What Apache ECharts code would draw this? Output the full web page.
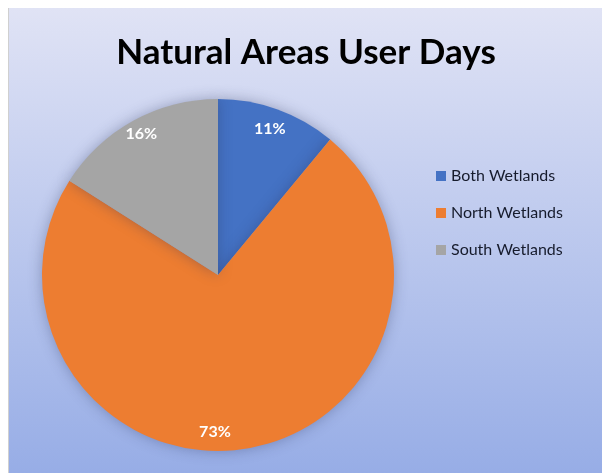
<!DOCTYPE html>
<html>
<head>
<meta charset="utf-8">
<script src="https://cdn.jsdelivr.net/npm/echarts@6/dist/echarts.min.js"></script>
<style>
  html, body { margin: 0; padding: 0; background: #ffffff; }
  #chart {
    position: absolute;
    left: 8px;
    top: 8px;
    width: 594px;
    height: 465px;
    border-left: 1px solid #d0d0d0;
  }
</style>
</head>
<body>
<div id="chart"></div>
<script>
const categories = ['Both Wetlands', 'North Wetlands', 'South Wetlands']
const shares = [11, 73, 16]
const colors = ['#4472c4', '#ed7d31', '#a5a5a5']

const chart = echarts.init(document.getElementById('chart'))

const pieData = categories.map((name, i) => ({
  name: name,
  value: shares[i],
  itemStyle: { color: colors[i] }
}))

// nudges so the labels land where the original put them
const labelNudge = [[0, -2], [-27, 6], [-3, -7]]

// labels sit near the rim, so put them on a transparent ring
const labelData = categories.map((name, i) => ({
  name: name,
  value: shares[i],
  label: { offset: labelNudge[i] }
}))

const option = {
  backgroundColor: {
    type: 'linear', x: 0, y: 0, x2: 0, y2: 1,
    colorStops: [
      { offset: 0, color: '#e0e3f5' },
      { offset: 1, color: '#97ade6' }
    ]
  },
  title: {
    text: 'Natural Areas User Days',
    left: 'center',
    top: 22,
    textStyle: {
      fontFamily: 'Lato',
      fontSize: 35,
      fontWeight: 'bold',
      color: '#000000'
    }
  },
  legend: {
    orient: 'vertical',
    left: 422,
    top: 155,
    itemWidth: 10,
    itemHeight: 10,
    itemGap: 21,
    icon: 'rect',
    textStyle: {
      fontFamily: 'Lato',
      fontSize: 16,
      color: '#161b2c'
    },
    data: categories.map((name, i) => ({ name: name, itemStyle: { color: colors[i] } }))
  },
  series: [
    {
      type: 'pie',
      center: [209, 267],
      radius: 176,
      startAngle: 90,
      clockwise: true,
      label: { show: false },
      labelLine: { show: false },
      itemStyle: {
        shadowBlur: 14,
        shadowColor: 'rgba(40, 50, 90, 0.35)'
      },
      emphasis: { disabled: true },
      data: pieData
    },
    {
      type: 'pie',
      center: [209, 267],
      radius: [124, 176],
      startAngle: 90,
      clockwise: true,
      silent: true,
      itemStyle: { color: 'transparent' },
      label: {
        show: true,
        position: 'inside',
        formatter: '{c}%',
        fontFamily: 'Lato',
        fontSize: 16,
        fontWeight: 'bold',
        color: '#ffffff'
      },
      labelLine: { show: false },
      emphasis: { disabled: true },
      data: labelData
    }
  ]
}

chart.setOption(option)
</script>
</body>
</html>
